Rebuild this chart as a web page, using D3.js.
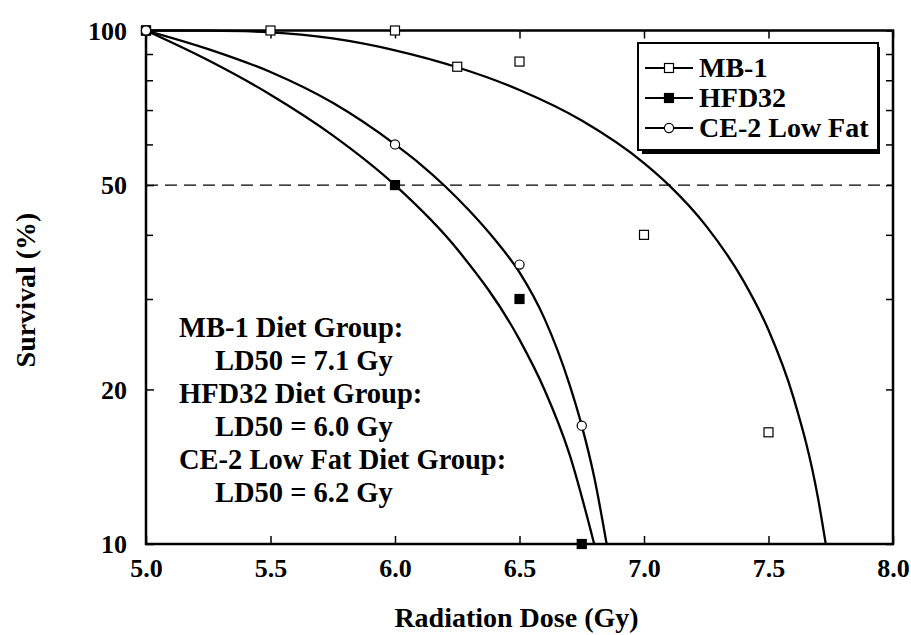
<!DOCTYPE html>
<html>
<head>
<meta charset="utf-8">
<script src="https://cdn.jsdelivr.net/npm/d3@7"></script>
<style>
  body { margin: 0; background: #fff; }
  text { font-family: "Liberation Serif", "Times New Roman", serif; font-weight: bold; fill: #000; }
</style>
</head>
<body>
<script>
// chart parameters
const width = 911;
const height = 635;
const plotLeft = 146;
const plotRight = 893;
const plotTop = 30.5;
const plotBottom = 544;

// data
const xTicks = [5.0, 5.5, 6.0, 6.5, 7.0, 7.5, 8.0];
const yTicks = [10, 20, 50, 100];
const yMinorTicks = [30, 40, 60, 70, 80, 90];

const mb1Dose = [5.0, 5.5, 6.0, 6.25, 6.5, 7.0, 7.5];
const mb1Survival = [100, 100, 100, 85, 87, 40, 16.5];
const hfdDose = [5.0, 6.0, 6.5, 6.75];
const hfdSurvival = [100, 50, 30, 10];
const ceDose = [5.0, 6.0, 6.5, 6.75];
const ceSurvival = [100, 60, 35, 17];

// fitted curves
const mb1CurveDose = [5.0, 5.25, 5.5, 5.75, 6.0, 6.25, 6.5, 6.75, 7.0, 7.1, 7.25, 7.4, 7.5, 7.6, 7.7, 7.73];
const mb1CurveSurvival = [100, 99.9, 99.2, 96.5, 91.5, 84.8, 76.6, 66.8, 55.2, 50, 41.6, 32.5, 26.1, 19.3, 12.2, 10];
const hfdCurveDose = [5.0, 5.25, 5.5, 5.75, 6.0, 6.25, 6.5, 6.6, 6.7, 6.8];
const hfdCurveSurvival = [100, 87.5, 75, 62.5, 50, 37.5, 25, 20, 15, 10];
const ceCurveDose = [5.0, 5.25, 5.5, 5.75, 6.0, 6.1, 6.2, 6.3, 6.4, 6.5, 6.6, 6.7, 6.75, 6.8, 6.85];
const ceCurveSurvival = [100, 92, 83, 72.3, 60, 55, 49.8, 44.5, 39.2, 33.8, 27.5, 20.5, 17, 13.5, 10];

const legendLabels = ["MB-1", "HFD32", "CE-2 Low Fat"];
const notes = ["MB-1 Diet Group:", "LD50 = 7.1 Gy", "HFD32 Diet Group:", "LD50 = 6.0 Gy", "CE-2 Low Fat Diet Group:", "LD50 = 6.2 Gy"];

function zip(xs, ys) { return xs.map(function(x, i) { return { x: x, y: ys[i] }; }); }

const svg = d3.select("body").append("svg")
  .attr("width", width)
  .attr("height", height);

const xScale = d3.scaleLinear().domain([5, 8]).range([plotLeft, plotRight]);
const yScale = d3.scaleLog().domain([10, 100]).range([plotBottom, plotTop]);

svg.append("clipPath").attr("id", "plotClip")
  .append("rect")
  .attr("x", plotLeft).attr("y", plotTop - 2)
  .attr("width", plotRight - plotLeft).attr("height", plotBottom - plotTop + 2);

// dashed LD50 line
svg.append("line")
  .attr("x1", plotLeft).attr("x2", plotRight)
  .attr("y1", yScale(50)).attr("y2", yScale(50))
  .attr("stroke", "#000").attr("stroke-width", 1.3)
  .attr("stroke-dasharray", "12,7");

// curves
const line = d3.line()
  .x(function(d) { return xScale(d.x); })
  .y(function(d) { return yScale(d.y); })
  .curve(d3.curveMonotoneX);

const curves = [zip(mb1CurveDose, mb1CurveSurvival), zip(hfdCurveDose, hfdCurveSurvival), zip(ceCurveDose, ceCurveSurvival)];
svg.append("g").attr("clip-path", "url(#plotClip)")
  .selectAll("path")
  .data(curves)
  .enter()
  .append("path")
  .attr("d", line)
  .attr("fill", "none")
  .attr("stroke", "#000")
  .attr("stroke-width", 2.3);

// axes (ticks pointing inward)
function styleAxis(g) {
  g.select(".domain").remove();
  g.selectAll(".tick line").attr("stroke", "#000").attr("stroke-width", 1.5);
  g.selectAll("text").style("font-size", "26px").attr("font-family", null);
}

svg.append("g")
  .attr("transform", "translate(0," + plotBottom + ")")
  .call(d3.axisBottom(xScale).tickValues(xTicks).tickSize(-8).tickFormat(d3.format(".1f")))
  .call(styleAxis)
  .call(function(g) { g.selectAll("text").attr("y", 33).attr("dy", null); });

svg.append("g")
  .attr("transform", "translate(0," + plotTop + ")")
  .call(d3.axisTop(xScale).tickValues(xTicks).tickSize(-8).tickFormat(""))
  .call(styleAxis);

svg.append("g")
  .attr("transform", "translate(" + plotLeft + ",0)")
  .call(d3.axisLeft(yScale).tickValues(yTicks).tickSize(-8).tickFormat(d3.format("d")))
  .call(styleAxis)
  .call(function(g) { g.selectAll("text").attr("x", -19).attr("dy", "0.33em"); });

svg.append("g")
  .attr("transform", "translate(" + plotLeft + ",0)")
  .call(d3.axisLeft(yScale).tickValues(yMinorTicks).tickSize(-7).tickFormat(""))
  .call(styleAxis);

svg.append("g")
  .attr("transform", "translate(" + plotRight + ",0)")
  .call(d3.axisRight(yScale).tickValues(yTicks.concat(yMinorTicks)).tickSize(-7).tickFormat(""))
  .call(styleAxis);

// frame
svg.append("rect")
  .attr("x", plotLeft).attr("y", plotTop)
  .attr("width", plotRight - plotLeft).attr("height", plotBottom - plotTop)
  .attr("fill", "none").attr("stroke", "#000").attr("stroke-width", 2.5);

// markers
function drawSquares(points, fill) {
  svg.append("g").selectAll("rect")
    .data(points)
    .enter()
    .append("rect")
    .attr("x", function(d) { return xScale(d.x) - 4.5; })
    .attr("y", function(d) { return yScale(d.y) - 4.5; })
    .attr("width", 9).attr("height", 9)
    .attr("fill", fill).attr("stroke", "#000").attr("stroke-width", 1.2);
}
drawSquares(zip(mb1Dose, mb1Survival), "#fff");
drawSquares(zip(hfdDose, hfdSurvival), "#000");
svg.append("g").selectAll("circle")
  .data(zip(ceDose, ceSurvival))
  .enter()
  .append("circle")
  .attr("cx", function(d) { return xScale(d.x); })
  .attr("cy", function(d) { return yScale(d.y); })
  .attr("r", 4.6)
  .attr("fill", "#fff").attr("stroke", "#000").attr("stroke-width", 1.2);

// legend
const legend = svg.append("g");
legend.append("rect")
  .attr("x", 642).attr("y", 47).attr("width", 238).attr("height", 107)
  .attr("fill", "#000");
legend.append("rect")
  .attr("x", 638).attr("y", 43).attr("width", 240).attr("height", 107)
  .attr("fill", "#fff").attr("stroke", "#000").attr("stroke-width", 2);

const legendRows = legend.selectAll(".row")
  .data(legendLabels)
  .enter()
  .append("g")
  .attr("class", "row")
  .attr("transform", function(d, i) { return "translate(0," + (68 + i * 30) + ")"; });
legendRows.append("line")
  .attr("x1", 645).attr("x2", 693)
  .attr("stroke", "#000").attr("stroke-width", 2);
legendRows.filter(function(d, i) { return i < 2; }).append("rect")
  .attr("x", 669 - 4.5).attr("y", -4.5).attr("width", 9).attr("height", 9)
  .attr("fill", function(d, i) { return i === 0 ? "#fff" : "#000"; })
  .attr("stroke", "#000").attr("stroke-width", 1.2);
legendRows.filter(function(d, i) { return i === 2; }).append("circle")
  .attr("cx", 669).attr("r", 4.6)
  .attr("fill", "#fff").attr("stroke", "#000").attr("stroke-width", 1.2);
legendRows.append("text")
  .attr("x", 699).attr("y", 9)
  .style("font-size", "28px")
  .text(function(d) { return d; });

// LD50 notes
svg.append("g").selectAll("text")
  .data(notes)
  .enter()
  .append("text")
  .attr("x", function(d, i) { return i % 2 === 0 ? 179 : 215; })
  .attr("y", function(d, i) { return 337 + i * 33; })
  .style("font-size", "28.5px")
  .text(function(d) { return d; });

// axis titles
svg.append("text")
  .attr("x", (plotLeft + plotRight) / 2 - 3).attr("y", 627)
  .attr("text-anchor", "middle")
  .style("font-size", "28px")
  .text("Radiation Dose (Gy)");

svg.append("text")
  .attr("transform", "translate(35,290) rotate(-90)")
  .attr("text-anchor", "middle")
  .style("font-size", "28px")
  .text("Survival (%)");
</script>
</body>
</html>
